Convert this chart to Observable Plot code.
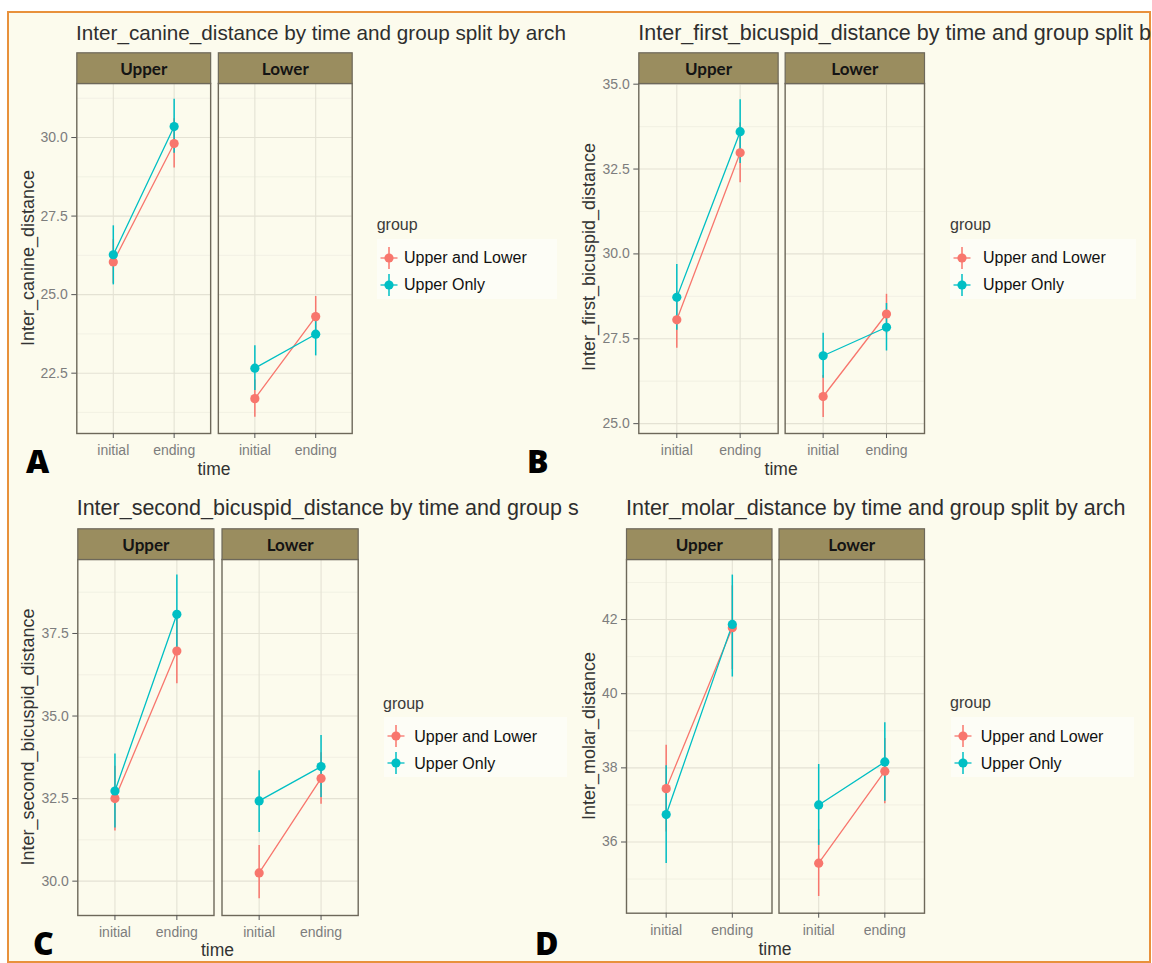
<!DOCTYPE html>
<html>
<head>
<meta charset="utf-8">
<script src="https://cdn.jsdelivr.net/npm/d3@7"></script>
<script src="https://cdn.jsdelivr.net/npm/@observablehq/plot@0.6"></script>
<style>
  body { margin: 0; background: #ffffff; }
  #root { position: relative; width: 1152px; height: 963px; overflow: hidden; font-family: "Liberation Sans", Arial, sans-serif; }
  .border { position: absolute; left: 7px; top: 11px; width: 1140px; height: 948px; border: 2px solid #e8913c; background: #fcfbed; }
  .abs { position: absolute; white-space: nowrap; line-height: 1; }
  .title { color: #2e2e2e; }
  .ytitle { font-size: 18px; color: #333333; transform: translate(-50%, -50%) rotate(-90deg); }
  .xtitle { font-size: 17.5px; color: #333333; transform: translateX(-50%); }
  .lgtitle { font-size: 16px; color: #3a3a3a; }
  .lgitem { font-size: 16px; color: #111111; }
  .lgbox { position: absolute; background: #fdfdf6; }
  .letter { font-family: "Open Sans", "DejaVu Sans", sans-serif; font-weight: 800; font-size: 32px; color: #000; }
</style>
</head>
<body>
<div id="root"><div class="border"></div></div>
<script>
// ---------- categories ----------
const arches = ["Upper", "Lower"];
const times = ["initial", "ending"];
const groups = ["Upper and Lower", "Upper Only"];
const groupColors = ["#F8766D", "#00BFC4"];

// ---------- values: order = Upper-initial, Upper-ending, Lower-initial, Lower-ending ----------
const canineULMean = [26.04, 29.81, 21.69, 24.30];
const canineULLo   = [25.35, 29.03, 21.10, 23.66];
const canineULHi   = [26.75, 30.60, 22.28, 24.94];
const canineUOMean = [26.27, 30.35, 22.66, 23.74];
const canineUOLo   = [25.31, 29.50, 21.95, 23.05];
const canineUOHi   = [27.19, 31.22, 23.37, 24.43];

const firstULMean = [28.06, 32.98, 25.80, 28.23];
const firstULLo   = [27.22, 32.10, 25.18, 27.65];
const firstULHi   = [28.90, 33.86, 26.42, 28.81];
const firstUOMean = [28.72, 33.60, 27.00, 27.84];
const firstUOLo   = [27.75, 32.66, 26.34, 27.14];
const firstUOHi   = [29.69, 34.54, 27.66, 28.54];

const secondULMean = [32.50, 36.97, 30.25, 33.11];
const secondULLo   = [31.52, 35.98, 29.47, 32.33];
const secondULHi   = [33.48, 37.96, 31.08, 33.89];
const secondUOMean = [32.73, 38.08, 32.43, 33.47];
const secondUOLo   = [31.61, 36.89, 31.47, 32.53];
const secondUOHi   = [33.85, 39.27, 33.34, 34.41];

const molarULMean = [37.44, 41.78, 35.43, 37.91];
const molarULLo   = [36.27, 40.65, 34.53, 37.03];
const molarULHi   = [38.61, 42.91, 36.33, 38.79];
const molarUOMean = [36.74, 41.87, 37.00, 38.16];
const molarUOLo   = [35.42, 40.45, 35.91, 37.10];
const molarUOHi   = [38.06, 43.20, 38.09, 39.22];

// ---------- tick labels ----------
const canineTicks = [22.5, 25.0, 27.5, 30.0];
const canineMinor = [21.25, 23.75, 26.25, 28.75, 31.25];
const firstTicks = [25.0, 27.5, 30.0, 32.5, 35.0];
const firstMinor = [26.25, 28.75, 31.25, 33.75];
const secondTicks = [30.0, 32.5, 35.0, 37.5];
const secondMinor = [31.25, 33.75, 36.25, 38.75];
const molarTicks = [36, 38, 40, 42];
const molarMinor = [35, 37, 39, 41, 43];

// titles as visible in the (cropped) source figure
const titles = [
  "Inter_canine_distance by time and group split by arch",
  "Inter_first_bicuspid_distance by time and group split b",
  "Inter_second_bicuspid_distance by time and group s",
  "Inter_molar_distance by time and group split by arch"
];
const yLabels = ["Inter_canine_distance", "Inter_first_bicuspid_distance", "Inter_second_bicuspid_distance", "Inter_molar_distance"];
const panelLetters = ["A", "B", "C", "D"];

function buildRows(ulM, ulLo, ulHi, uoM, uoLo, uoHi) {
  const rows = [];
  const sets = [[ulM, ulLo, ulHi], [uoM, uoLo, uoHi]];
  sets.forEach(([m, lo, hi], gi) => {
    m.forEach((v, i) => rows.push({group: groups[gi], arch: arches[Math.floor(i / 2)], time: times[i % 2], mean: v, lo: lo[i], hi: hi[i]}));
  });
  return rows;
}

const datasets = [
  buildRows(canineULMean, canineULLo, canineULHi, canineUOMean, canineUOLo, canineUOHi),
  buildRows(firstULMean, firstULLo, firstULHi, firstUOMean, firstUOLo, firstUOHi),
  buildRows(secondULMean, secondULLo, secondULHi, secondUOMean, secondUOLo, secondUOHi),
  buildRows(molarULMean, molarULLo, molarULHi, molarUOMean, molarUOLo, molarUOHi)
];

const layouts = [
  {major: canineTicks, minor: canineMinor, dom: [20.58, 31.72], fmt: d3.format(".1f"),
   svg: {left: 0, top: 45, width: 360, height: 435, ml: 76.3, mr: 8.3, mt: 38, mb: 47, pad: 0.0544},
   titleX: 76, titleBase: 40.7, titleSize: 20.7, yT: [28.3, 257.5], timeBase: 476,
   lg: {gx: 376.7, gb: 231, kx: 389.3, tx: 404, b1: 264, b2: 291}, letter: [26, 471.7]},
  {major: firstTicks, minor: firstMinor, dom: [24.71, 35.02], fmt: d3.format(".1f"),
   svg: {left: 550, top: 45, width: 380, height: 435, ml: 88.3, mr: 6, mt: 38, mb: 47, pad: 0.0478},
   titleX: 638.3, titleBase: 40.7, titleSize: 21.5, yT: [589.3, 256.7], timeBase: 476,
   lg: {gx: 950, gb: 231, kx: 962, tx: 983, b1: 264, b2: 291}, letter: [527, 471.7]},
  {major: secondTicks, minor: secondMinor, dom: [28.96, 39.74], fmt: d3.format(".1f"),
   svg: {left: 0, top: 520, width: 365, height: 443, ml: 77.3, mr: 7.3, mt: 39, mb: 48, pad: 0.0555},
   titleX: 76.7, titleBase: 516, titleSize: 21.5, yT: [28.3, 736.7], timeBase: 957,
   lg: {gx: 383, gb: 709.5, kx: 395.7, tx: 414.3, b1: 742.4, b2: 769.5}, letter: [33, 954]},
  {major: molarTicks, minor: molarMinor, dom: [34.08, 43.62], fmt: d3.format("d"),
   svg: {left: 550, top: 520, width: 380, height: 443, ml: 76, mr: 6, mt: 39, mb: 50.3, pad: 0.0459},
   titleX: 626, titleBase: 516, titleSize: 21.5, yT: [589.3, 735.8], timeBase: 956,
   lg: {gx: 950, gb: 709, kx: 963.3, tx: 980.7, b1: 742.4, b2: 769.5}, letter: [535, 954]}
];

const root = document.getElementById("root");
const BASE = 0.8465; // baseline offset (em) for line-height 1

function addDiv(cls, text, left, top, parent = root) {
  const d = document.createElement("div");
  d.className = "abs " + cls;
  d.textContent = text;
  d.style.left = left + "px";
  d.style.top = top + "px";
  parent.appendChild(d);
  return d;
}

function makeChart(data, L) {
  const s = L.svg;
  const frameH = s.height - s.mt - s.mb;
  return Plot.plot({
    width: s.width, height: s.height,
    marginLeft: s.ml, marginRight: s.mr, marginTop: s.mt, marginBottom: s.mb,
    style: {background: "transparent", fontFamily: "Liberation Sans, Arial, sans-serif", overflow: "visible"},
    fx: {domain: arches, paddingInner: s.pad, paddingOuter: 0, round: false, axis: null, label: null},
    x: {type: "point", domain: times, padding: 0.6, round: false, axis: null},
    y: {domain: L.dom, axis: null},
    color: {domain: groups, range: groupColors},
    marks: [
      Plot.frame({fill: "#fcfbed"}),
      Plot.gridY(L.minor, {stroke: "#eeecdf", strokeOpacity: 1, strokeWidth: 0.7}),
      Plot.gridY(L.major, {stroke: "#e4e2d4", strokeOpacity: 1, strokeWidth: 1.1}),
      Plot.gridX(times, {stroke: "#e4e2d4", strokeOpacity: 1, strokeWidth: 1.1}),
      Plot.frame({stroke: "#6d685a", strokeWidth: 1.4}),
      Plot.frame({fill: "#9a8d5f", stroke: "#6d685a", strokeWidth: 1.2, insetTop: -30.7, insetBottom: frameH}),
      Plot.text(arches, {fx: d => d, text: d => d, frameAnchor: "top", lineAnchor: "middle", dy: -13.5, fontSize: 17, fontWeight: 700,
        fontFamily: "Lato, 'Open Sans', sans-serif", fill: "#141414"}),
      Plot.line(data, {fx: "arch", x: "time", y: "mean", stroke: "group", z: "group", strokeWidth: 1.3}),
      Plot.ruleX(data, {fx: "arch", x: "time", y1: "lo", y2: "hi", stroke: "group", strokeWidth: 1.5}),
      Plot.dot(data, {fx: "arch", x: "time", y: "mean", fill: "group", r: 4.6}),
      Plot.axisY(L.major, {tickFormat: L.fmt, tickSize: 5, tickPadding: 4, fontSize: 14, fill: "#7d7d7d", stroke: "#555", label: null}),
      Plot.axisX({tickSize: 5, tickPadding: 7, fontSize: 14, fill: "#7d7d7d", stroke: "#555", label: null})
    ]
  });
}

layouts.forEach((L, i) => {
  const s = L.svg;
  const chart = makeChart(datasets[i], L);
  const wrap = document.createElement("div");
  wrap.style.position = "absolute";
  wrap.style.left = s.left + "px";
  wrap.style.top = s.top + "px";
  wrap.appendChild(chart);
  root.appendChild(wrap);

  // title
  const t = addDiv("title", titles[i], L.titleX, L.titleBase - BASE * L.titleSize);
  t.style.fontSize = L.titleSize + "px";

  // y title
  addDiv("ytitle", yLabels[i], L.yT[0], L.yT[1]);

  // x title
  const frameL = s.left + s.ml, frameR = s.left + s.width - s.mr;
  addDiv("xtitle", "time", (frameL + frameR) / 2, L.timeBase - BASE * 17.5);

  // legend
  const g = L.lg;
  const box = document.createElement("div");
  box.className = "lgbox";
  box.style.left = (g.kx - 12) + "px";
  box.style.top = (g.b1 - 25) + "px";
  box.style.width = (g.tx - g.kx + 165) + "px";
  box.style.height = (g.b2 - g.b1 + 33) + "px";
  root.appendChild(box);
  addDiv("lgtitle", "group", g.gx, g.gb - BASE * 16);
  [g.b1, g.b2].forEach((b, k) => {
    addDiv("lgitem", groups[k], g.tx, b - BASE * 16);
    const cy = b - 6.5;
    const svgNS = "http://www.w3.org/2000/svg";
    const key = document.createElementNS(svgNS, "svg");
    key.setAttribute("width", 24); key.setAttribute("height", 26);
    key.style.position = "absolute";
    key.style.left = (g.kx - 12) + "px";
    key.style.top = (cy - 13) + "px";
    key.innerHTML = `<line x1="3.5" x2="20.5" y1="13" y2="13" stroke="${groupColors[k]}" stroke-width="1.3"/>` +
      `<line x1="12" x2="12" y1="2" y2="24" stroke="${groupColors[k]}" stroke-width="1.5"/>` +
      `<circle cx="12" cy="13" r="4.6" fill="${groupColors[k]}"/>`;
    root.appendChild(key);
  });

  // panel letter
  addDiv("letter", panelLetters[i], L.letter[0], L.letter[1] - BASE * 32);
});
</script>
</body>
</html>
